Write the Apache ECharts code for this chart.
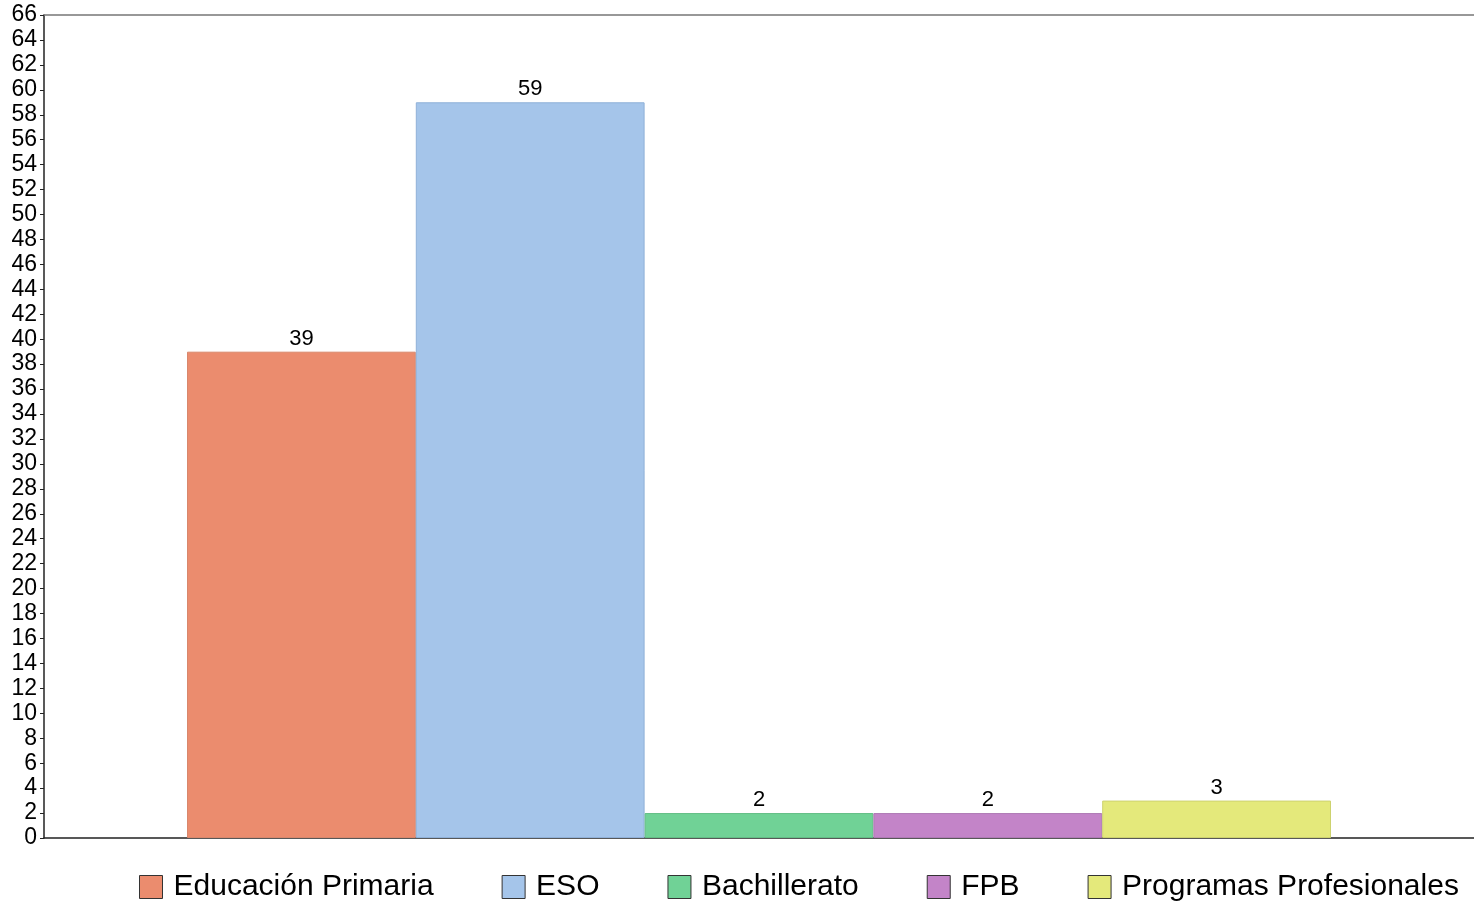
<!DOCTYPE html>
<html>
<head>
<meta charset="utf-8">
<script src="https://cdn.jsdelivr.net/npm/echarts@6/dist/echarts.min.js"></script>
<style>
html,body{margin:0;padding:0;background:#fff;}
#chart{width:1474px;height:901px;}
</style>
</head>
<body>
<div id="chart"></div>
<script>
const categories = ['Total'];
const seriesNames = ['Educación Primaria', 'ESO', 'Bachillerato', 'FPB', 'Programas Profesionales'];
const seriesValues = [39, 59, 2, 2, 3];
const seriesColors = ['#EB8C6E', '#A5C5EA', '#70D296', '#C384C8', '#E4E97B'];
const borderColors = ['#D9876C', '#8FB0D8', '#63BE86', '#B07AB5', '#CDD26E'];
const yMin = 0, yMax = 66, yInterval = 2;

const font = '"Liberation Sans", Arial, sans-serif';
const chart = echarts.init(document.getElementById('chart'), null, {renderer: 'canvas'});

const series = seriesNames.map((name, i) => ({
  name: name,
  type: 'bar',
  data: [seriesValues[i]],
  barGap: '0%',
  barCategoryGap: '20%',
  itemStyle: { color: seriesColors[i], borderColor: borderColors[i], borderWidth: 1 },
  label: {
    show: true,
    position: 'top',
    distance: 1,
    color: '#000',
    fontFamily: font,
    fontSize: 22,
    backgroundColor: '#fff',
    padding: [0, 5, 1, 5]
  },
  emphasis: { disabled: true }
}));

chart.setOption({
  animation: false,
  textStyle: { fontFamily: font },
  grid: { left: 44, right: 0, top: 15, bottom: 63, containLabel: false },
  xAxis: [{
    type: 'category',
    data: categories,
    axisLine: { lineStyle: { color: '#222', width: 1.5 } },
    axisTick: { show: false },
    axisLabel: { show: false },
    splitLine: { show: false }
  }, {
    type: 'category',
    position: 'top',
    data: categories,
    axisLine: { show: true, lineStyle: { color: '#777', width: 1.5 } },
    axisTick: { show: false },
    axisLabel: { show: false }
  }],
  yAxis: {
    type: 'value',
    min: yMin, max: yMax, interval: yInterval,
    axisLine: { show: true, lineStyle: { color: '#222', width: 1.5 } },
    axisTick: { show: true, length: 4, lineStyle: { color: '#222' } },
    axisLabel: { color: '#000', fontSize: 23, fontFamily: font, margin: 7 },
    splitLine: { show: false }
  },
  legend: {
    data: seriesNames,
    left: 139,
    top: 872,
    padding: 0,
    itemWidth: 23,
    itemHeight: 23,
    itemGap: 68,
    icon: 'rect',
    itemStyle: { borderColor: '#333', borderWidth: 1 },
    textStyle: { color: '#000', fontSize: 30, fontFamily: font, padding: [0, 0, 0, 6] }
  },
  series: series
});
</script>
</body>
</html>
